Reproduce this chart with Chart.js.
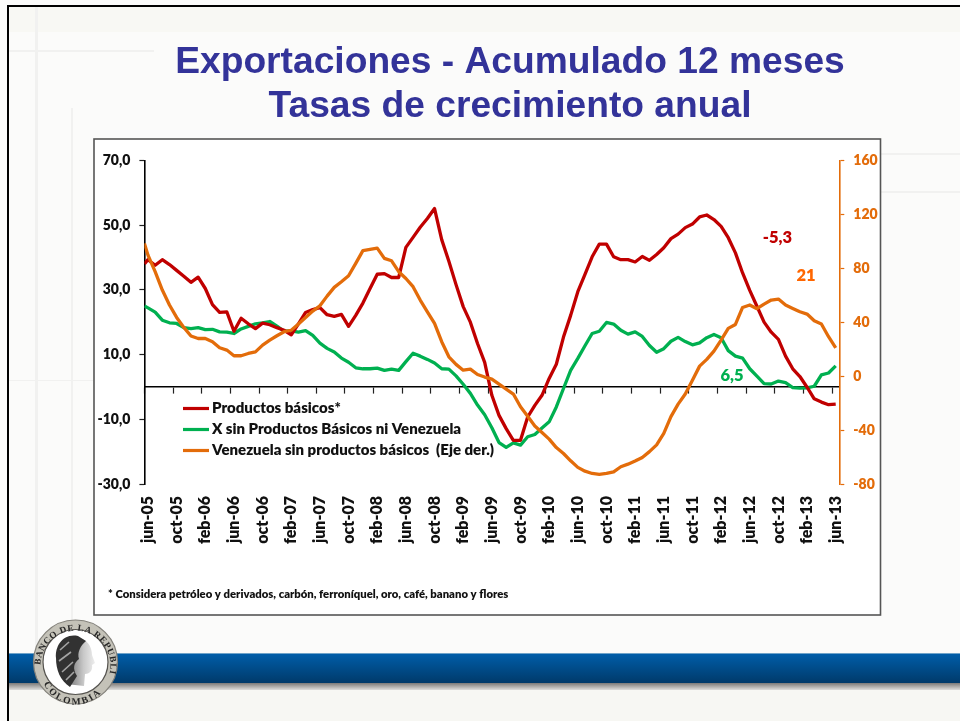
<!DOCTYPE html>
<html lang="es">
<head>
<meta charset="utf-8">
<style>
html,body{margin:0;padding:0;width:960px;height:721px;overflow:hidden;background:#fbfbfa}
#slide{position:absolute;left:0;top:0;width:960px;height:721px;overflow:hidden}
.d{position:absolute}
canvas{position:absolute;left:0;top:0}
svg{position:absolute;left:0;top:0}
</style>
<script src="https://cdn.jsdelivr.net/npm/chart.js@4/dist/chart.umd.js"></script>
</head>
<body>
<div id="slide">
  <div class="d" style="left:9px;top:7px;width:951px;height:25px;background:#f8f8f4"></div>
  <div class="d" style="left:35px;top:7px;width:3px;height:646px;background:#f1f1f0"></div>
  <div class="d" style="left:9px;top:50px;width:145px;height:2px;background:#f1f1f0"></div>
  <div class="d" style="left:71px;top:108px;width:2px;height:545px;background:#f1f1f0"></div>
  <div class="d" style="left:9px;top:380px;width:85px;height:1px;background:#f1f1f0"></div>
  <div class="d" style="left:881px;top:153px;width:79px;height:2px;background:#f1f1f0"></div>
  <div class="d" style="left:881px;top:191px;width:79px;height:2px;background:#f1f1f0"></div>
  <div class="d" style="left:9px;top:690px;width:951px;height:31px;background:#f7f7f3"></div>
  <div class="d" style="left:9px;top:653px;width:951px;height:1px;background:#6fa3c9"></div>
  <div class="d" style="left:9px;top:654px;width:951px;height:29px;background:linear-gradient(#005da8,#003a6a)"></div>
  <div class="d" style="left:9px;top:683px;width:951px;height:7px;background:linear-gradient(#7c7a78,#dededc)"></div>
  <div class="d" style="left:7px;top:5px;width:953px;height:2px;background:#000"></div>
  <div class="d" style="left:7px;top:5px;width:2px;height:716px;background:#000"></div>
  <canvas id="c" width="960" height="721"></canvas>
  <svg width="960" height="721" viewBox="0 0 960 721">
    <defs>
      <filter id="b"><feGaussianBlur stdDeviation="0.7"/></filter>
      <filter id="t"><feGaussianBlur stdDeviation="0.25"/></filter>
      <linearGradient id="f" x1="0" x2="1"><stop offset="0" stop-color="#6a6a6a"/><stop offset="0.6" stop-color="#c8c8c8"/><stop offset="1" stop-color="#eee"/></linearGradient>
      <path id="top" d="M41.5 674 A35 35 0 1 1 109.5 674"/>
      <path id="bot" d="M41 670 A34.5 34.5 0 0 0 110 670"/>
    </defs>
    <g filter="url(#b)">
      <circle cx="75.5" cy="662" r="42" fill="#c4c2b8" stroke="#85837c" stroke-width="1.2"/>
      <circle cx="75.5" cy="662" r="32.5" fill="#fff" stroke="#55534f" stroke-width="1.2"/>
      <path d="M77 638 C87 638 92 647 92 655 L95 663 L92 665 C93 671 89 674 85 674 L84 686 L66 684 L68 650 Z" fill="url(#f)"/>
      <path d="M78 636 C63 633 55 646 56 658 C56 670 60 680 70 687 L77 676 C72 668 74 663 79 659 C77 653 80 646 86 641 Z" fill="#333"/>
      <path d="M60 650 L69 642 M59 661 L71 652 M62 672 L73 662 M66 680 L74 672" stroke="#a5a5a5" stroke-width="1.6"/>
    </g>
    <g font-family="'Liberation Serif',serif" font-weight="700" fill="#262626" filter="url(#t)">
      <text font-size="9.2" letter-spacing="0.6"><textPath href="#top" startOffset="9">BANCO DE LA REPUBLICA</textPath></text>
      <text font-size="9.6" letter-spacing="2"><textPath href="#bot" startOffset="14">COLOMBIA</textPath></text>
    </g>
  </svg>
</div>
<script>
const months = ["jun-05","jul-05","ago-05","sep-05","oct-05","nov-05","dic-05","ene-06","feb-06","mar-06","abr-06","may-06","jun-06","jul-06","ago-06","sep-06","oct-06","nov-06","dic-06","ene-07","feb-07","mar-07","abr-07","may-07","jun-07","jul-07","ago-07","sep-07","oct-07","nov-07","dic-07","ene-08","feb-08","mar-08","abr-08","may-08","jun-08","jul-08","ago-08","sep-08","oct-08","nov-08","dic-08","ene-09","feb-09","mar-09","abr-09","may-09","jun-09","jul-09","ago-09","sep-09","oct-09","nov-09","dic-09","ene-10","feb-10","mar-10","abr-10","may-10","jun-10","jul-10","ago-10","sep-10","oct-10","nov-10","dic-10","ene-11","feb-11","mar-11","abr-11","may-11","jun-11","jul-11","ago-11","sep-11","oct-11","nov-11","dic-11","ene-12","feb-12","mar-12","abr-12","may-12","jun-12","jul-12","ago-12","sep-12","oct-12","nov-12","dic-12","ene-13","feb-13","mar-13","abr-13","may-13","jun-13"];

const productosBasicos = [39.3,37.6,39.3,37.8,36,34.2,32.3,33.9,30.4,25.4,23,23.2,17.2,21.2,19.5,18,19.7,19.2,18.3,17.5,16.1,19.5,23,23.9,24.5,22.3,21.8,22.4,18.7,22.1,25.9,30.4,34.8,35,33.8,33.8,43.1,46.2,49.3,52,55.1,45.5,38.8,31.6,24.8,20,13.4,7.6,-2.6,-8.8,-12.9,-16.5,-16.5,-9.3,-5.7,-2.6,2.6,7,15.4,22.1,29.4,34.8,40.2,44.1,44.1,40.2,39.3,39.3,38.6,40.3,39.1,40.9,43,45.8,47.2,49.2,50.3,52.5,53.1,51.7,49.6,46.1,41.4,35.2,29.8,24.9,20,16.9,14.7,9.5,5.6,3.2,-0.1,-3.7,-4.7,-5.5,-5.3];
const sinBasicosNiVenezuela = [24.4,23.1,20.6,19.8,19.6,18.3,18,18.3,17.7,17.8,17,16.9,16.5,17.9,18.7,19.5,19.8,20.2,18.8,17.2,17.3,16.9,17.4,15.9,13.5,11.9,10.8,8.9,7.6,5.9,5.6,5.6,5.8,5.1,5.5,5.1,7.8,10.4,9.5,8.5,7.4,5.6,5.5,3.4,0.8,-2,-5.6,-8.6,-12.6,-17.2,-18.7,-17.3,-18,-15.4,-14.7,-12.7,-10.8,-6.2,-0.5,5.1,8.8,12.7,16.5,17.2,19.9,19.4,17.5,16.3,17,15.6,12.8,10.7,11.8,14.1,15.3,14,13,13.6,15.2,16.2,15.2,11.2,9.5,8.9,5.6,3.3,1,0.9,1.8,1.3,-0.2,-0.4,-0.3,0.2,3.7,4.3,6.5];
const venezuelaSinBasicos = [89.7,77.4,63.8,52.7,43.5,36.1,29.7,27.9,27.9,25.5,21,19.3,15.1,15.1,16.8,18,23,26.7,29.9,32.9,34,38.6,43.5,48.2,52.2,59.3,65.8,70,74.4,83.6,93,93.9,94.9,87.3,85.5,77.4,72.4,66.3,56.4,47.7,39.1,25.5,14.3,8.7,4.4,5.2,1.2,-0.7,-2.2,-5.9,-9.6,-13.3,-22.7,-29.7,-37,-41.8,-46.7,-53,-57.4,-62.8,-67.7,-70.5,-72.2,-72.9,-72.2,-71,-67.2,-65.3,-63,-60.3,-56,-51,-42.5,-30,-20.8,-13.3,-3,7.4,12.4,18.5,26.7,35.4,38.3,50.9,52.7,50,53.4,56.4,57.1,52.7,50.2,47.7,46,41,38.6,29.2,21];
/* valor con el que cada curva entra por el eje izquierdo (mes anterior recortado) */
const entradaEje = [38, 25, 98.4];

const tituloLineas = ["Exportaciones - Acumulado 12 meses","Tasas de crecimiento anual"];
const nombresSeries = ["Productos básicos*","X sin Productos Básicos ni Venezuela","Venezuela sin productos básicos  (Eje der.)"];
const coloresSeries = ["#C00000","#00B050","#E36C0A"];
const etiquetasFinales = ["-5,3","6,5","21"];
const nota = "* Considera petróleo y derivados, carbón, ferroníquel, oro, café, banano y flores";

const FONT = "Lato, Carlito, sans-serif";
const toXY = (arr, start) => [{x:-0.5,y:start}].concat(arr.map((v,i)=>({x:i,y:v})));
const labelTicks = months.map((m,i)=>i).filter(i=>i%4===0);

const slidePlugin = {
  id:'slide',
  beforeDraw(chart){
    const c = chart.ctx;
    c.save();
    c.fillStyle = '#fff';
    c.fillRect(94,139,786.5,476);
    c.strokeStyle = '#555';
    c.lineWidth = 1.6;
    c.strokeRect(94,139,786.5,476);
    c.restore();
  },
  afterDraw(chart){
    const c = chart.ctx;
    c.save();
    c.textBaseline = 'middle';
    c.textAlign = 'left';
    c.font = '800 15px '+FONT;
    nombresSeries.forEach((n,i)=>{
      const y = 408.5 + i*21;
      c.strokeStyle = coloresSeries[i];
      c.lineWidth = 3.2;
      c.beginPath(); c.moveTo(183,y); c.lineTo(209,y); c.stroke();
      c.fillStyle = '#111';
      c.fillText(n,212,y);
    });
    c.font = '800 11.3px '+FONT;
    c.fillStyle = '#111';
    c.fillText(nota,108,594);
    c.font = '800 16.5px '+FONT;
    c.textAlign = 'center';
    c.fillStyle = '#C00000'; c.fillText(etiquetasFinales[0],777.5,238);
    c.fillStyle = '#00B050'; c.fillText(etiquetasFinales[1],732,376);
    c.fillStyle = '#FF6600'; c.fillText(etiquetasFinales[2],806,276);
    c.restore();
  }
};

new Chart(document.getElementById('c'),{
  type:'line',
  data:{
    datasets:[
      {label:nombresSeries[0],data:toXY(productosBasicos,entradaEje[0]),borderColor:coloresSeries[0],backgroundColor:coloresSeries[0],yAxisID:'y',xAxisID:'x',order:1},
      {label:nombresSeries[1],data:toXY(sinBasicosNiVenezuela,entradaEje[1]),borderColor:coloresSeries[1],backgroundColor:coloresSeries[1],yAxisID:'y',xAxisID:'x',order:2},
      {label:nombresSeries[2],data:toXY(venezuelaSinBasicos,entradaEje[2]),borderColor:coloresSeries[2],backgroundColor:coloresSeries[2],yAxisID:'y1',xAxisID:'x',order:0}
    ]
  },
  options:{
    responsive:false,
    animation:false,
    parsing:false,
    normalized:true,
    layout:{padding:{left:60,right:0,top:0,bottom:0}},
    elements:{
      point:{radius:0},
      line:{borderWidth:3.3,tension:0,borderJoinStyle:'round',borderCapStyle:'butt'}
    },
    plugins:{
      legend:{display:false},
      tooltip:{enabled:false},
      title:{
        display:true,
        text:tituloLineas,
        color:'#333399',
        font:{family:"'Liberation Sans', Arial, sans-serif",size:37.2,weight:'bold',lineHeight:1.183},
        padding:{top:40.5,bottom:31.8}
      }
    },
    scales:{
      x:{
        type:'linear',
        min:-0.5,max:96.5,
        position:'bottom',
        afterBuildTicks:s=>{s.ticks = labelTicks.map(v=>({value:v}));},
        afterFit:s=>{s.height = 237;},
        grid:{display:false,drawTicks:false},
        border:{display:false},
        ticks:{
          autoSkip:false,minRotation:90,maxRotation:90,padding:12,
          color:'#111',font:{family:FONT,size:16,weight:'800'},
          callback:v=>months[v]
        }
      },
      xCero:{
        type:'linear',
        min:-0.5,max:96.5,
        axis:'x',
        position:{y:0},
        afterBuildTicks:s=>{s.ticks = labelTicks.map(v=>({value:v-0.5}));},
        grid:{drawOnChartArea:false,drawTicks:true,tickLength:6,tickColor:'#222',tickWidth:1.2},
        border:{display:true,color:'#000',width:1.6},
        ticks:{display:false}
      },
      y:{
        position:'left',
        min:-30,max:70,
        afterFit:s=>{s.width = 84.4;},
        grid:{drawOnChartArea:false,tickLength:5,tickColor:'#222',tickWidth:1.2},
        border:{display:true,color:'#000',width:1.6},
        ticks:{
          stepSize:20,padding:9,color:'#111',
          font:{family:FONT,size:14,weight:'800'},
          callback:v=>v.toFixed(1).replace('.',',')
        }
      },
      y1:{
        position:'right',
        min:-80,max:160,
        afterFit:s=>{s.width = 120.7;},
        grid:{drawOnChartArea:false,tickLength:5,tickColor:'#E36C0A',tickWidth:1.2},
        border:{display:true,color:'#E36C0A',width:1.6},
        ticks:{
          stepSize:40,padding:9,color:'#E36C0A',
          font:{family:FONT,size:14,weight:'800'}
        }
      }
    }
  },
  plugins:[slidePlugin]
});
</script>
</body>
</html>
